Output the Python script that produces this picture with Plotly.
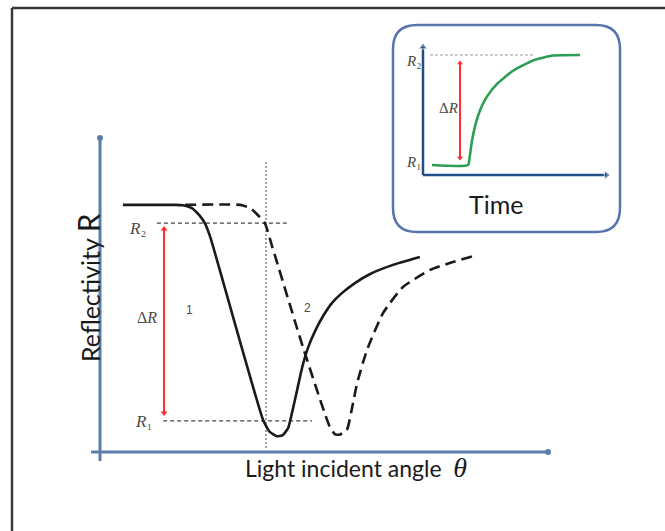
import plotly.graph_objects as go

# ---------------- data ----------------
# Main chart: reflectivity vs light incident angle (arbitrary units)
curve1_theta = [5.1, 11.2, 16.7, 18.5, 20.5, 22.3, 23.4, 24.6, 36.4, 37.9, 39.5, 40.8,
                42.0, 42.9, 44.0, 45.1, 46.4, 48.0, 49.8, 51.8, 54.0, 56.9, 60.3, 65.4, 71.4]
curve1_R = [0.787, 0.787, 0.787, 0.786, 0.777, 0.752, 0.729, 0.685, 0.102, 0.064, 0.050, 0.054,
            0.076, 0.127, 0.197, 0.268, 0.331, 0.385, 0.433, 0.475, 0.506, 0.538, 0.567, 0.596, 0.621]

curve2_theta = [19.0, 31.3, 33.5, 35.0, 36.8, 38.4, 45.3, 51.3, 52.5, 53.6, 55.1, 56.3,
                57.4, 59.6, 63.2, 67.6, 73.7, 78.1, 84.2]
curve2_R = [0.787, 0.787, 0.777, 0.758, 0.729, 0.656, 0.334, 0.080, 0.056, 0.056, 0.070, 0.143,
            0.220, 0.325, 0.443, 0.525, 0.580, 0.602, 0.627]

R1_level = 0.099
R2_level = 0.729
R1_line_theta = [14.1, 47.3]
R2_line_theta = [12.7, 41.7]
theta_ref = 37.05
theta_ref_R = [0.013, 0.930]
dR_theta = 14.3
dR_span = [0.710, 0.124]

# Inset: reflectivity vs time
time_vals = [4.8, 24.1, 25.0, 26.2, 28.0, 30.5, 34.0, 39.6, 48.1, 58.8, 69.5, 84.0]
resp_vals = [0.076, 0.076, 0.140, 0.260, 0.380, 0.490, 0.590, 0.690, 0.790, 0.868, 0.905, 0.909]
inset_R2_level = 0.909
inset_R2_line_t = [3.7, 58.8]
inset_dR_t = 19.8
inset_dR_span = [0.848, 0.129]

W, H = 665, 531
AXIS_BLUE = "#5b7fac"
INSET_BLUE = "#1f4f86"
RED = "#ff2b2b"
INK = "#1a1a1a"
LABEL_GRAY = "#4a4a4a"

fig = go.Figure()

# ---------------- main chart traces ----------------
fig.add_trace(go.Scatter(x=R2_line_theta, y=[R2_level] * 2, mode="lines",
                         line=dict(color="#444", width=1.2, dash="4px,3px"),
                         xaxis="x", yaxis="y", hoverinfo="skip"))
fig.add_trace(go.Scatter(x=R1_line_theta, y=[R1_level] * 2, mode="lines",
                         line=dict(color="#444", width=1.2, dash="4px,3px"),
                         xaxis="x", yaxis="y", hoverinfo="skip"))
fig.add_trace(go.Scatter(x=[theta_ref] * 2, y=theta_ref_R, mode="lines",
                         line=dict(color="#666", width=1.2, dash="2px,2px"),
                         xaxis="x", yaxis="y", hoverinfo="skip"))
fig.add_trace(go.Scatter(x=curve2_theta, y=curve2_R, mode="lines",
                         line=dict(color=INK, width=2.6, dash="11px,6px", shape="spline", smoothing=0.5),
                         xaxis="x", yaxis="y"))
fig.add_trace(go.Scatter(x=curve1_theta, y=curve1_R, mode="lines",
                         line=dict(color=INK, width=2.6, shape="spline", smoothing=0.45),
                         xaxis="x", yaxis="y"))
fig.add_trace(go.Scatter(x=[dR_theta] * 2, y=dR_span, mode="lines+markers",
                         line=dict(color=RED, width=2),
                         marker=dict(symbol=["triangle-up", "triangle-down"], size=6, color=RED),
                         xaxis="x", yaxis="y", cliponaxis=False))
# axis end dots
fig.add_trace(go.Scatter(x=[0, 100], y=[1, 0], mode="markers",
                         marker=dict(size=6, color=AXIS_BLUE),
                         xaxis="x", yaxis="y", cliponaxis=False))

# ---------------- inset traces ----------------
# inset axes with arrowheads
fig.add_trace(go.Scatter(x=[0, 0], y=[0, 0.97], mode="lines+markers",
                         line=dict(color=INSET_BLUE, width=2.5),
                         marker=dict(symbol=["circle", "triangle-up"], size=[0, 8], color=INSET_BLUE),
                         xaxis="x2", yaxis="y2", cliponaxis=False))
fig.add_trace(go.Scatter(x=[0, 98], y=[0, 0], mode="lines+markers",
                         line=dict(color=INSET_BLUE, width=2.5),
                         marker=dict(symbol=["circle", "triangle-right"], size=[0, 8], color=INSET_BLUE),
                         xaxis="x2", yaxis="y2", cliponaxis=False))
fig.add_trace(go.Scatter(x=inset_R2_line_t, y=[inset_R2_level] * 2, mode="lines",
                         line=dict(color="#9a9a9a", width=1.2, dash="3px,2px"),
                         xaxis="x2", yaxis="y2"))
fig.add_trace(go.Scatter(x=time_vals, y=resp_vals, mode="lines",
                         line=dict(color="#2f9e55", width=2.6, shape="spline", smoothing=0.5),
                         xaxis="x2", yaxis="y2", cliponaxis=False))
fig.add_trace(go.Scatter(x=[inset_dR_t] * 2, y=inset_dR_span, mode="lines+markers",
                         line=dict(color=RED, width=2),
                         marker=dict(symbol=["triangle-up", "triangle-down"], size=5, color=RED),
                         xaxis="x2", yaxis="y2", cliponaxis=False))

hidden = dict(showgrid=False, zeroline=False, showticklabels=False, showline=False, ticks="")

# ---------------- shapes ----------------
def px_x(p):
    return p / W

def px_y(p):
    return (H - p) / H

# inset rounded box
bx0, bx1, by0, by1 = px_x(393), px_x(620), px_y(232), px_y(25)
rx, ry = 24 / W, 24 / H
box_path = (f"M {bx0+rx},{by1} L {bx1-rx},{by1} Q {bx1},{by1} {bx1},{by1-ry} "
            f"L {bx1},{by0+ry} Q {bx1},{by0} {bx1-rx},{by0} L {bx0+rx},{by0} "
            f"Q {bx0},{by0} {bx0},{by0+ry} L {bx0},{by1-ry} Q {bx0},{by1} {bx0+rx},{by1} Z")

shapes = [
    # outer frame (top and left)
    dict(type="line", xref="paper", yref="paper", x0=px_x(12), x1=1.0, y0=px_y(8), y1=px_y(8),
         line=dict(color="#3a3a3a", width=2.5)),
    dict(type="line", xref="paper", yref="paper", x0=px_x(12), x1=px_x(12), y0=0, y1=px_y(8),
         line=dict(color="#3a3a3a", width=2.5)),
    # inset box
    dict(type="path", xref="paper", yref="paper", path=box_path, layer="below",
         fillcolor="white", line=dict(color="#5774ad", width=2.5)),
    # main axes
    dict(type="line", xref="x domain", yref="y domain", x0=0, x1=0, y0=-0.029, y1=1,
         line=dict(color=AXIS_BLUE, width=3)),
    dict(type="line", xref="x domain", yref="y domain", x0=-0.02, x1=1, y0=0, y1=0,
         line=dict(color=AXIS_BLUE, width=3)),
]

# ---------------- annotations ----------------
serif_lbl = dict(family="Liberation Serif, DejaVu Serif", size=17, color=LABEL_GRAY)
inset_lbl = dict(family="Liberation Serif, DejaVu Serif", size=15, color=LABEL_GRAY)
annotations = [
    # main labels
    dict(text="<i>R</i>₂", x=8.3, y=0.712, xref="x", yref="y", showarrow=False, font=serif_lbl),
    dict(text="<i>R</i>₁", x=9.8, y=0.098, xref="x", yref="y", showarrow=False, font=serif_lbl),
    dict(text="Δ<i>R</i>", x=10.5, y=0.427, xref="x", yref="y", showarrow=False,
         font=dict(family="Liberation Serif", size=16, color=LABEL_GRAY)),
    dict(text="1", x=19.9, y=0.452, xref="x", yref="y", showarrow=False,
         font=dict(family="Liberation Sans", size=12, color=LABEL_GRAY)),
    dict(text="2", x=46.4, y=0.459, xref="x", yref="y", showarrow=False,
         font=dict(family="Liberation Sans", size=12, color=LABEL_GRAY)),
    # axis titles
    dict(text="Light incident angle  <span style='font-family:Liberation Serif;font-size:28px'><i>θ</i></span>",
         x=px_x(356), y=px_y(485), xref="paper", yref="paper", showarrow=False,
         font=dict(family="Lato", size=23, color=INK)),
    dict(text="Reflectivity <span style='font-size:30px'>R</span>",
         x=px_x(68), y=px_y(288), xref="paper", yref="paper", showarrow=False, textangle=-90,
         font=dict(family="Lato", size=25, color=INK)),
    # inset labels
    dict(text="<i>R</i>₂", x=-5.3, y=0.86, xref="x2", yref="y2", showarrow=False, font=inset_lbl),
    dict(text="<i>R</i>₁", x=-5.3, y=0.095, xref="x2", yref="y2", showarrow=False, font=inset_lbl),
    dict(text="Δ<i>R</i>", x=13.4, y=0.508, xref="x2", yref="y2", showarrow=False, font=inset_lbl),
    dict(text="Time", x=px_x(525), y=px_y(204), xref="paper", yref="paper", showarrow=False,
         font=dict(family="Lato", size=25, color=INK)),
]

# inset axes: 1.87 px per time unit, 132 px per R unit, origin at pixel (423, 175);
# ranges padded so the axis lines at 0 are not clipped.
fig.update_layout(
    width=W, height=H, autosize=False,
    margin=dict(l=0, r=0, t=0, b=0),
    paper_bgcolor="white", plot_bgcolor="white",
    showlegend=False,
    xaxis=dict(domain=[px_x(100), px_x(548)], range=[0, 100], **hidden),
    yaxis=dict(domain=[px_y(452), px_y(138)], range=[0, 1], **hidden),
    xaxis2=dict(domain=[px_x(413), px_x(613)], range=[-5.35, 101.6], anchor="y2", **hidden),
    yaxis2=dict(domain=[px_y(185), px_y(38)], range=[-0.0758, 1.0379], anchor="x2", **hidden),
    shapes=shapes,
    annotations=annotations,
)

fig.write_html("out.html", config={"displayModeBar": False},
               post_script="document.body.style.margin='0';document.body.style.padding='0';"
                           "document.body.style.overflow='hidden';")
